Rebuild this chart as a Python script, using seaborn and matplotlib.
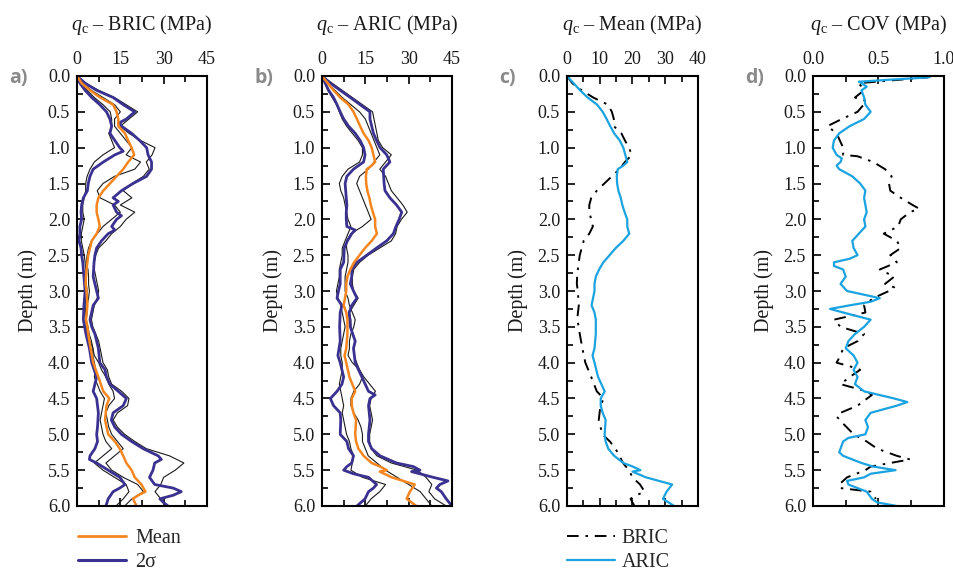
import matplotlib
matplotlib.use('Agg')
import matplotlib.pyplot as plt
import seaborn as sns
from matplotlib.lines import Line2D
from matplotlib.ticker import MultipleLocator, FormatStrFormatter

# ---------------- data ----------------
# Panel a (BRIC)
a_mean_depth = [0,0.1,0.2,0.3,0.4,0.5,0.6,0.7,0.8,0.9,1.0,1.1,1.2,1.3,1.4,1.5,1.6,1.7,1.8,1.9,
                2.0,2.1,2.2,2.3,2.4,2.5,2.6,2.7,2.8,2.9,3.0,3.2,3.4,3.5,3.6,3.8,4.0,4.2,4.4,4.5,
                4.6,4.8,5.0,5.1,5.2,5.3,5.4,5.5,5.6,5.7,5.8,5.85,5.9,6.0]
a_mean = [0,1.6,4.5,8,12.5,13.7,14.3,14.3,16.6,17.7,18.9,19.8,17.7,16,13.7,11.4,9.1,7.4,6.8,6.8,
          7.4,7.9,6.8,5.1,4.5,3.9,3.6,3.3,3.1,3.0,3.3,3.6,3.1,3.6,3.9,4.7,5.6,7.4,9.1,11.2,
          10.2,9.7,10.8,13.1,14.8,16,17.1,18.9,20,22.3,23.7,21.2,19.4,20.6]

a_up_depth = [0,0.1,0.2,0.3,0.4,0.5,0.6,0.65,0.7,0.8,0.9,1.0,1.1,1.2,1.3,1.4,1.5,1.6,1.7,1.75,
              1.8,1.9,1.95,2.0,2.1,2.15,2.2,2.3,2.4,2.5,2.6,2.8,3.0,3.1,3.2,3.4,3.5,3.6,3.8,4.0,
              4.1,4.2,4.3,4.4,4.5,4.6,4.7,4.8,4.9,5.0,5.1,5.2,5.3,5.35,5.4,5.5,5.6,5.7,5.75,5.8,
              5.85,5.9,5.95,6.0]
a_up = [0,2.8,6.8,12.5,16,20,17.1,14.8,15.4,18.9,21.7,24.1,24.6,25.8,25.8,24.1,19.4,15.4,12.5,14.3,
        12.5,13.7,15.4,13.7,12,13.1,10.8,8.5,6.8,6.2,5.9,5.6,6.8,7.4,5.6,4.5,5.1,6.2,7.4,7.9,
        9.7,10.2,11.4,14.3,17.1,16,12.5,11.9,13.1,15.4,18.9,22.9,28.1,29.2,26.9,26.3,25.1,26.9,33.3,36.1,
        33.3,28.7,29.9,31.5]

a_lo_depth = [0,0.1,0.2,0.3,0.4,0.5,0.6,0.7,0.8,0.9,1.0,1.05,1.1,1.2,1.3,1.4,1.5,1.6,1.7,1.8,
              1.9,2.0,2.1,2.2,2.3,2.4,2.5,2.6,2.8,3.0,3.2,3.4,3.6,3.8,4.0,4.2,4.3,4.4,4.5,4.7,
              4.9,5.0,5.1,5.2,5.3,5.35,5.4,5.5,5.6,5.7,5.75,5.8,5.9,6.0]
a_lo = [0,1,2.8,5.1,7.9,10.2,11.4,12,11.4,13.1,14.8,16,13.1,9.1,5.6,4.5,3.9,3.6,2.2,1.6,
        1.4,1.6,1,1,0.7,1.4,1.6,2,2.4,2.8,2.4,2.2,3.1,4.3,5.1,6.8,6.2,5.6,6.8,7.4,
        7.1,6.8,7.1,6.2,4.5,4.3,6.8,10.8,14.8,16.6,14.8,12.5,10.8,10]

thin_depth = [0.0,0.1,0.2,0.3,0.4,0.5,0.6,0.7,0.8,0.9,1.0,1.1,1.2,1.3,1.4,1.5,1.6,1.7,1.8,1.9,
              2.0,2.1,2.2,2.3,2.4,2.5,2.6,2.7,2.8,2.9,3.0,3.1,3.2,3.3,3.4,3.5,3.6,3.7,3.8,3.9,
              4.0,4.1,4.2,4.3,4.4,4.5,4.6,4.7,4.8,4.9,5.0,5.1,5.2,5.3,5.4,5.5,5.6,5.7,5.8,5.9,6.0]
a_thin1 = [0,3,7.5,13,17,21,18,15,18,22, 27,26,24,25,23,19,16,19,15,20,
           17,15,12,10,7.5,6.5,6,6,6.5,7, 7.5,7,6,5.5,5,5.5,6.5,7.5,8,8.5,
           9,10.5,11,12,15.5,18,17.5,14,12.5,14, 16.5,20,24,32,37,34,30,29,27,29, 31]
a_thin2 = [0,1.5,3.5,6,9,11.5,12,12,11,12, 13,9,6,4.5,3.5,3,3,2.5,2,2,
           2.5,2,1.5,1.5,2,2.5,2.8,3,3,3.2, 3.5,3,2.8,3,3,3.2,3.5,4.5,5.5,5.5,
           6,6.5,6,7,8,9.5,9,8.5,8,8.5, 9,10,12,9,6,9,13,17,18,16, 13.5]
a_thin3 = [0,2,5,9,13,15,13,13,15,17, 19,17,22,20,13,9,7,8,13,15,
           12,9,7,5,4,3.5,3.2,3.8,4,4, 4.3,4,3.5,3.5,3.2,3.8,4.2,5,5.5,6,
           7.5,8.5,10,11,12.5,13,11,10,10.5,11, 12,14,16,13,10,12,16,21,23,19, 16.5]

# Panel b (ARIC)
b_mean_depth = [0,0.1,0.2,0.3,0.4,0.5,0.6,0.7,0.8,0.9,1.0,1.1,1.2,1.25,1.3,1.4,1.5,1.6,1.7,1.8,
                1.9,2.0,2.1,2.2,2.3,2.4,2.5,2.6,2.7,2.8,2.9,3.0,3.2,3.3,3.4,3.6,3.8,3.9,4.0,4.2,
                4.4,4.5,4.6,4.7,4.8,5.0,5.1,5.2,5.3,5.4,5.45,5.5,5.52,5.6,5.7,5.8,5.9,6.0]
b_mean = [0,2,4,6.3,9.2,10.9,12.1,13.2,14.4,16.1,17.2,17.8,18.4,17.2,15.5,15.2,15.3,15.7,16.4,16.9,
          17.6,18.4,18.4,19,17.2,14.9,13,11.1,9.8,8.8,8.4,8.4,7.5,8.4,8.8,8.8,8.4,7.8,8.4,9.5,
          11.5,10.3,10.3,10.9,11.8,11.5,11.8,12.6,14.4,17.2,20.1,22.4,20,24.1,32.1,30.4,29.3,32.7]

b_up_depth = [0,0.1,0.2,0.3,0.4,0.5,0.6,0.7,0.8,0.9,1.0,1.1,1.2,1.3,1.5,1.6,1.7,1.8,1.9,2.0,
              2.1,2.2,2.3,2.4,2.5,2.6,2.7,2.8,2.9,3.0,3.1,3.2,3.3,3.5,3.7,3.8,4.0,4.2,4.4,4.45,
              4.5,4.6,4.8,5.0,5.1,5.2,5.3,5.4,5.45,5.5,5.52,5.6,5.65,5.7,5.75,5.8,5.9,6.0]
b_up = [0,2.9,6.3,9.8,13.2,16.6,16.6,17.2,17.8,18.9,20.1,22.4,23.5,21.2,21.5,21.8,23.5,25.8,27.6,26.7,
        25.6,24.7,22.4,18.9,15.5,12.1,10.3,10.3,9.8,10.9,12.1,10.3,9.4,9.8,11.5,10.9,11.5,13.8,16.1,18.4,
        16.6,16.1,16.6,16.1,16.1,17.2,20.1,25.8,31.6,33.9,31,38.5,43.6,40.8,39.6,41.3,43,45]

b_lo_depth = [0,0.1,0.2,0.3,0.4,0.5,0.6,0.7,0.8,0.9,1.0,1.1,1.2,1.3,1.4,1.5,1.7,1.8,1.9,2.0,
              2.1,2.15,2.2,2.3,2.4,2.6,2.7,2.9,3.0,3.1,3.2,3.3,3.5,3.7,3.9,4.0,4.2,4.3,4.4,4.5,
              4.6,4.7,4.8,5.0,5.1,5.2,5.3,5.4,5.45,5.5,5.55,5.6,5.7,5.75,5.8,5.9,6.0]
b_lo = [0,1.1,2.3,4,5.2,6.3,7.5,9.2,11.5,13.2,14.4,14.9,14.4,10.9,8.6,8,8.4,8.6,8.4,8.4,
        8.6,11.5,10.3,8.8,7.7,7.5,6.3,6.3,5.7,5.2,6.9,6.3,6.1,6.3,5.5,6.3,7.5,6.9,5.2,2.9,
        4,6.3,6.5,6.3,8.6,9.2,10.9,10.3,8.6,7.5,10.9,16.1,18.9,17.8,16.1,14.9,12.1]

b_thin1 = [0,3.5,7,10.5,14,17.5,18,18.5,19,19.5, 21,24,22,20,22,23,24,26,28,29.5,
           27.5,26,25.5,24,20,16,13,11,10.5,10.5, 11,12.5,11,9.5,10,10,10.5,11.5,11,11,
           12,13,14.5,16.5,18.5,17,16.5,17,17.5,17, 16.5,16.5,17,19,24,33,36,38,37,39, 43]
b_thin2 = [0,1,2,3.5,5,6,7,8.5,10.5,12.5, 14,14,13,9,7,6,6.5,7.5,8,8.5,
           9,10,9,8,7,7,6.5,6,6,5.5, 5,5.5,6.5,7,7.5,8,7.5,7,6.5,6.5,
           7,7,6.5,6,6.5,7,7.5,7,7.5,8, 8.5,9.5,10,11,10.5,10,14,22,20,17, 15]
b_thin3 = [0,2,4.5,7,10,13,15,16,17,18, 19,20,18,16,13,12,13,14,15,16,
           17,14,10,8.5,8.5,9,9,8.5,8,8, 8,9,9.5,10.5,11.5,11,10,9.5,9.5,9,
           10.5,13,14,13,11,10,10,11,12.5,13.5, 14,14,15,16,19,22,26,30,34,36, 38]

# Panel d (COV)
cov_aric_depth = [0,0.02,0.05,0.08,0.1,0.15,0.2,0.3,0.4,0.5,0.6,0.7,0.8,0.9,1.0,1.1,1.15,1.2,1.25,1.3,
                  1.4,1.5,1.6,1.7,1.8,1.9,2.0,2.1,2.2,2.3,2.4,2.5,2.55,2.6,2.65,2.7,2.8,2.9,3.0,3.1,
                  3.15,3.2,3.25,3.3,3.4,3.5,3.6,3.7,3.8,3.9,4.0,4.1,4.2,4.3,4.4,4.5,4.55,4.6,4.7,4.8,
                  4.9,5.0,5.05,5.1,5.2,5.25,5.3,5.4,5.45,5.5,5.55,5.6,5.65,5.7,5.8,5.9,5.95,6.0]
cov_aric = [0.9,0.88,0.6,0.35,0.37,0.41,0.37,0.39,0.4,0.44,0.39,0.28,0.2,0.16,0.15,0.18,0.22,0.21,0.18,0.2,
            0.3,0.36,0.4,0.39,0.4,0.41,0.39,0.4,0.35,0.3,0.31,0.34,0.28,0.16,0.16,0.23,0.25,0.21,0.26,0.51,
            0.44,0.28,0.13,0.23,0.44,0.39,0.32,0.27,0.25,0.31,0.34,0.31,0.34,0.32,0.39,0.62,0.72,0.64,0.44,0.4,
            0.42,0.4,0.27,0.23,0.21,0.2,0.23,0.37,0.46,0.63,0.44,0.39,0.26,0.27,0.41,0.45,0.49,0.64]

cov_bric_depth = [0,0.02,0.1,0.2,0.3,0.35,0.5,0.6,0.7,0.8,1.0,1.1,1.12,1.2,1.3,1.4,1.5,1.6,1.7,1.8,
                  1.85,1.9,2.0,2.1,2.2,2.3,2.4,2.5,2.6,2.7,2.8,2.9,2.95,3.0,3.1,3.2,3.3,3.4,3.5,3.6,
                  3.7,3.8,3.9,4.0,4.05,4.1,4.2,4.3,4.4,4.45,4.6,4.7,4.75,4.85,5.0,5.1,5.2,5.3,5.35,5.4,
                  5.45,5.5,5.6,5.7,5.75,5.8,5.85,5.9]
cov_bric = [0.9,0.87,0.35,0.39,0.32,0.41,0.34,0.22,0.11,0.18,0.23,0.23,0.34,0.46,0.55,0.6,0.58,0.59,0.67,0.76,
            0.81,0.74,0.67,0.65,0.54,0.64,0.67,0.59,0.64,0.51,0.62,0.55,0.62,0.58,0.46,0.39,0.4,0.16,0.21,0.39,
            0.34,0.23,0.21,0.18,0.28,0.36,0.28,0.21,0.41,0.45,0.34,0.21,0.18,0.23,0.31,0.41,0.49,0.64,0.74,0.59,
            0.44,0.4,0.26,0.2,0.21,0.44,0.46,0.48]

titles = ['BRIC', 'ARIC', 'Mean', 'COV']
letters = ['a)', 'b)', 'c)', 'd)']
legend_ab = ['Mean', '2σ']
legend_cd = ['BRIC', 'ARIC']

# ---------------- style ----------------
ORANGE = '#F5861F'
PURPLE = '#3A3190'
BLUE = '#1AA3E0'
THIN = '#1a1a1a'
DASHDOT = (0, (6, 3.5, 1.3, 3.5))

sns.set_theme(style='ticks')
plt.rcParams['font.family'] = ['Liberation Serif', 'DejaVu Serif']
plt.rcParams['mathtext.fontset'] = 'custom'
plt.rcParams['mathtext.rm'] = 'Liberation Serif'
plt.rcParams['mathtext.it'] = 'Liberation Serif:italic'

fig = plt.figure(figsize=(9.54, 5.73), dpi=100)
W, H = 954, 573
lefts = [77, 322, 567, 813]
widths = [130, 130, 131, 131]
top, bottom = 76, 506
axes = [fig.add_axes([l / W, 1 - bottom / H, w / W, (bottom - top) / H]) for l, w in zip(lefts, widths)]


def line(ax, x, y, **kw):
    sns.lineplot(x=x, y=y, ax=ax, sort=False, estimator=None, orient='y', **kw)


ax = axes[0]
for t in (a_thin1, a_thin2, a_thin3):
    line(ax, t, thin_depth, color=THIN, lw=0.8)
line(ax, a_up, a_up_depth, color=PURPLE, lw=2.0)
line(ax, a_lo, a_lo_depth, color=PURPLE, lw=2.0)
line(ax, a_mean, a_mean_depth, color=ORANGE, lw=1.8)

ax = axes[1]
for t in (b_thin1, b_thin2, b_thin3):
    line(ax, t, thin_depth, color=THIN, lw=0.8)
line(ax, b_up, b_up_depth, color=PURPLE, lw=2.0)
line(ax, b_lo, b_lo_depth, color=PURPLE, lw=2.0)
line(ax, b_mean, b_mean_depth, color=ORANGE, lw=1.8)

ax = axes[2]
line(ax, a_mean, a_mean_depth, color='black', lw=1.4, linestyle=DASHDOT)
line(ax, b_mean, b_mean_depth, color=BLUE, lw=1.6)

ax = axes[3]
line(ax, cov_bric, cov_bric_depth, color='black', lw=1.4, linestyle=DASHDOT)
line(ax, cov_aric, cov_aric_depth, color=BLUE, lw=1.6)

xcfg = [(45, 15, 7.5, '%d'), (45, 15, 7.5, '%d'), (40, 10, 5, '%d'), (1.0, 0.5, 0.25, '%.1f')]
for ax, (xmax, mj, mn, fmt), title, letter in zip(axes, xcfg, titles, letters):
    ax.set_xlim(0, xmax)
    ax.set_ylim(6, 0)
    ax.xaxis.set_major_locator(MultipleLocator(mj))
    ax.xaxis.set_minor_locator(MultipleLocator(mn))
    ax.yaxis.set_major_locator(MultipleLocator(0.5))
    ax.yaxis.set_minor_locator(MultipleLocator(0.25))
    ax.yaxis.set_major_formatter(FormatStrFormatter('%.1f'))
    ax.xaxis.set_major_formatter(FormatStrFormatter(fmt))
    ax.xaxis.tick_top()
    ax.tick_params(axis='x', which='both', direction='in', top=True, bottom=True,
                   labeltop=True, labelbottom=False)
    ax.tick_params(axis='y', which='both', direction='in', left=True, right=False)
    ax.tick_params(which='major', length=6, width=1.2, labelsize=13, pad=5, color='black',
                   labelcolor='#1a1a1a')
    ax.tick_params(axis='x', which='major', pad=6)
    ax.tick_params(which='minor', length=4, width=1.2, color='black')
    ax.xaxis.set_label_position('top')
    ax.set_xlabel(r'$q_\mathrm{c}$' + ' – ' + title + ' (MPa)', fontsize=14.5, labelpad=15,
                  color='#1a1a1a')
    ax.set_ylabel('Depth (m)', fontsize=14.5, labelpad=7, color='#1a1a1a')
    for s in ax.spines.values():
        s.set_linewidth(1.5)
        s.set_color('black')
    ax.text(-0.52, 0.995, letter, transform=ax.transAxes, ha='left', va='center',
            fontsize=14, fontweight='bold', color='#8a8a8a', family=['Open Sans', 'DejaVu Sans'])

h_ab = [Line2D([], [], color=ORANGE, lw=2), Line2D([], [], color=PURPLE, lw=2.2)]
fig.legend(h_ab, legend_ab, loc='upper left', bbox_to_anchor=(78 / W, 1 - 529 / H),
           frameon=False, fontsize=14.5, handlelength=2.4, handletextpad=0.45,
           labelspacing=0.25, borderpad=0, borderaxespad=0)
h_cd = [Line2D([], [], color='black', lw=1.4, linestyle=DASHDOT), Line2D([], [], color=BLUE, lw=1.6)]
fig.legend(h_cd, legend_cd, loc='upper left', bbox_to_anchor=(567 / W, 1 - 529 / H),
           frameon=False, fontsize=14.5, handlelength=2.4, handletextpad=0.3,
           labelspacing=0.25, borderpad=0, borderaxespad=0)

fig.savefig('out.png', dpi=100)
